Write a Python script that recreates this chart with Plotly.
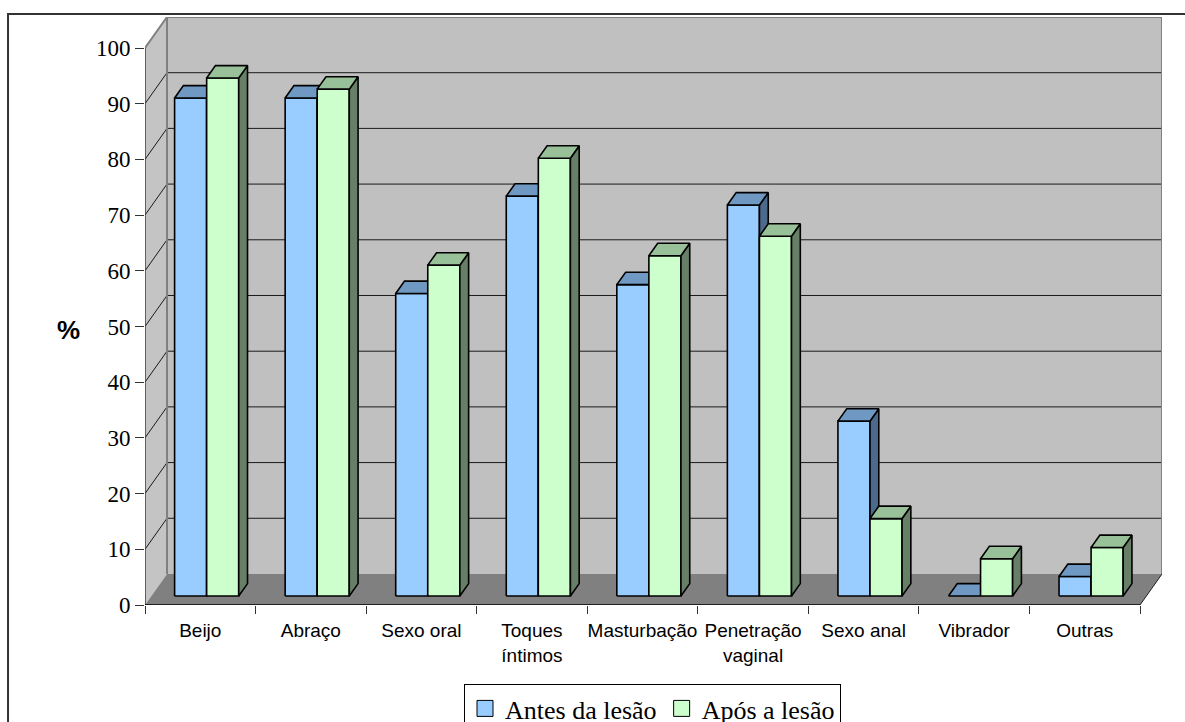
import plotly.graph_objects as go

# Percentages of sexual practices before and after the injury
categorias = ["Beijo", "Abraço", "Sexo oral", "Toques<br>íntimos", "Masturbação",
              "Penetração<br>vaginal", "Sexo anal", "Vibrador", "Outras"]
antes = [89.4, 89.4, 54.3, 71.8, 55.9, 70.2, 31.4, 0.0, 3.5]
apos = [93.0, 91.0, 59.4, 78.6, 61.1, 64.6, 13.9, 6.7, 8.7]
series_nomes = ["Antes da lesão", "Após a lesão"]
y_ticks = list(range(0, 101, 10))

# Oblique 3-D projection: depth of the whole scene in axis units
DX = 0.199      # horizontal shift of the back wall (category units)
DY = 5.57       # vertical shift of the back wall (value units)
F0, F1 = 0.29, 0.69   # depth fractions of the column front / back faces
BW = 0.29       # column width (category units)

colors = {
    "Antes da lesão": ("#99CCFF", "#6F99C2", "#4C6A8C"),   # front, top, side
    "Após a lesão": ("#CCFFCC", "#99C199", "#667F66"),
}

n = len(categorias)
x_lo, x_hi = -0.5, n - 0.5

fig = go.Figure()
shapes = []

# Walls and floor
def path(pts):
    return "M " + " L ".join(f"{x},{y}" for x, y in pts) + " Z"

shapes.append(dict(type="path", layer="below", xref="x", yref="y",
                   path=path([(x_lo, 0), (x_lo, 100), (x_lo + DX, 100 + DY), (x_lo + DX, DY)]),
                   fillcolor="#C4C4C4", line=dict(width=0)))
shapes.append(dict(type="path", layer="below", xref="x", yref="y",
                   path=path([(x_lo + DX, DY), (x_lo + DX, 100 + DY), (x_hi + DX, 100 + DY), (x_hi + DX, DY)]),
                   fillcolor="#C0C0C0", line=dict(width=0)))
shapes.append(dict(type="path", layer="below", xref="x", yref="y",
                   path=path([(x_lo, 0), (x_hi, 0), (x_hi + DX, DY), (x_lo + DX, DY)]),
                   fillcolor="#808080", line=dict(width=0)))

# Gridlines running across side wall and back wall
for v in y_ticks[1:-1]:
    shapes.append(dict(type="line", layer="below", xref="x", yref="y",
                       x0=x_lo, y0=v, x1=x_lo + DX, y1=v + DY,
                       line=dict(color="#1A1A1A", width=1)))
    shapes.append(dict(type="line", layer="below", xref="x", yref="y",
                       x0=x_lo + DX, y0=v + DY, x1=x_hi + DX, y1=v + DY,
                       line=dict(color="#1A1A1A", width=1)))

# Wall edges
wall_edge = dict(color="#808080", width=2)
shapes.append(dict(type="path", layer="below", xref="x", yref="y",
                   path="M {},{} L {},{} L {},{} L {},{}".format(
                       x_lo, 100, x_lo + DX, 100 + DY, x_hi + DX, 100 + DY, x_hi + DX, DY),
                   line=wall_edge))
shapes.append(dict(type="line", layer="below", xref="x", yref="y",
                   x0=x_lo + DX, y0=DY, x1=x_lo + DX, y1=100 + DY, line=wall_edge))

# Front axis line and floor front edge
shapes.append(dict(type="line", layer="below", xref="x", yref="y",
                   x0=x_lo, y0=0, x1=x_lo, y1=100, line=dict(color="#404040", width=1.5)))
shapes.append(dict(type="line", layer="below", xref="x", yref="y",
                   x0=x_lo, y0=0, x1=x_hi, y1=0, line=dict(color="#000000", width=1.5)))
shapes.append(dict(type="line", layer="below", xref="x", yref="y",
                   x0=x_hi, y0=0, x1=x_hi + DX, y1=DY, line=dict(color="#202020", width=1)))

# Outer chart border (right and bottom sides fall outside the page)
shapes.append(dict(type="rect", xref="paper", yref="paper",
                   x0=(8 - 145) / 1017.2, x1=(1230 - 145) / 1017.2,
                   y0=(605 - 760) / 588, y1=(605 - 14) / 588,
                   line=dict(color="#333333", width=2), fillcolor="rgba(0,0,0,0)"))

# 3-D columns: front face, top face, right side face
sx0, sy0 = F0 * DX, F0 * DY
ddx, ddy = (F1 - F0) * DX, (F1 - F0) * DY
edge = dict(color="#000000", width=1.6)

def face(xs, ys, color):
    fig.add_trace(go.Scatter(x=xs, y=ys, mode="lines", fill="toself", fillcolor=color,
                             line=edge, showlegend=False, hoverinfo="skip"))

for i in range(n):
    for k, (nome, vals) in enumerate(zip(series_nomes, [antes, apos])):
        v = vals[i]
        front, top, side = colors[nome]
        x0 = i - BW + k * BW + sx0
        x1 = x0 + BW
        b = sy0
        t = v + sy0
        if v > 0:
            face([x0, x1, x1, x0, x0], [b, b, t, t, b], front)
            face([x1, x1 + ddx, x1 + ddx, x1, x1], [b, b + ddy, t + ddy, t, b], side)
        face([x0, x1, x1 + ddx, x0 + ddx, x0], [t, t, t + ddy, t + ddy, t], top)

# Legend entries
for nome in series_nomes:
    fig.add_trace(go.Scatter(x=[None], y=[None], mode="markers", name=nome,
                             marker=dict(symbol="square", size=16, color=colors[nome][0],
                                         line=dict(color="#000000", width=1))))

fig.add_annotation(text="<b>%</b>", xref="paper", yref="paper",
                   x=(68 - 145) / 1017.2, y=(605 - 330) / 588,
                   xanchor="center", yanchor="middle", showarrow=False,
                   font=dict(family="Liberation Sans, Arial", size=26, color="#000000"))

fig.update_layout(
    width=1185, height=722, autosize=False,
    margin=dict(l=145, r=22.8, t=17, b=117, autoexpand=False),
    paper_bgcolor="#FFFFFF", plot_bgcolor="rgba(0,0,0,0)",
    shapes=shapes,
    showlegend=True,
    legend=dict(orientation="h", xref="container", yref="container",
                x=464 / 1185, xanchor="left", y=1 - 684 / 722, yanchor="top",
                bgcolor="#FFFFFF", bordercolor="#000000", borderwidth=1,
                font=dict(family="Liberation Serif, Times New Roman", size=26, color="#000000"),
                itemsizing="trace"),
    xaxis=dict(range=[x_lo, x_hi + DX], showgrid=False, zeroline=False, showline=False,
               tickmode="array", tickvals=list(range(n)), ticktext=categorias,
               ticks="outside", ticklen=8, tickcolor="rgba(0,0,0,0)",
               minor=dict(tickmode="array", tickvals=[x_lo + j for j in range(n + 1)],
                          ticks="outside", ticklen=8, tickcolor="#333333", tickwidth=1),
               tickfont=dict(family="Liberation Sans, Arial", size=19, color="#000000"),
               automargin=False, fixedrange=True),
    yaxis=dict(range=[0, 100 + DY], showgrid=False, zeroline=False, showline=False,
               tickmode="array", tickvals=y_ticks,
               ticks="outside", ticklen=9, tickcolor="#333333", tickwidth=1,
               tickfont=dict(family="Liberation Serif, Times New Roman", size=23, color="#000000"),
               automargin=False, fixedrange=True),
)

fig.write_html("out.html")
